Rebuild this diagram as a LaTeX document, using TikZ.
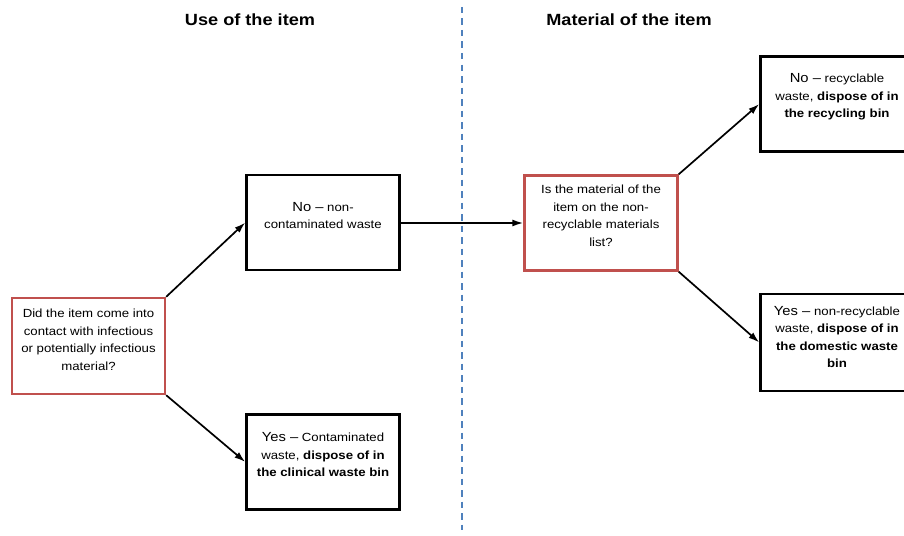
\documentclass[tikz,border=0pt]{standalone}
\usepackage{fontspec}
\setmainfont{Liberation Sans}[FakeStretch=1.12]
\usetikzlibrary{arrows.meta}

\definecolor{qred}{HTML}{C0504D}
\definecolor{divblue}{HTML}{4F81BD}

\newcommand{\lead}[1]{{\fontsize{13.2}{17.5}\selectfont #1}}

\tikzset{
  box/.style={draw=black, line width=2.4pt, minimum width=153pt,
    minimum height=95pt, inner sep=0pt},
  qbox/.style={box, draw=qred},
  txt/.style={align=center, font=\fontsize{11.8}{17.5}\selectfont, inner sep=0pt},
  title/.style={font=\bfseries\fontsize{16.2}{19}\selectfont, inner sep=0pt},
  arr/.style={-{Latex[length=11pt,width=7pt]}, line width=1.7pt},
  divider/.style={draw=divblue, line width=1.8pt, dash pattern=on 6.5pt off 5pt}
}

\begin{document}
\begin{tikzpicture}[x=1pt,y=-1pt]
\useasboundingbox (0,0) rectangle (904,535);
\clip (0,0) rectangle (904,535);

% column headings and divider
\node[title] (h1) at (250,20) {Use of the item};
\node[title] (h2) at (629,20) {Material of the item};
\coordinate (divtop) at (462,7);
\coordinate (divbot) at (462,530);
\draw[divider] (divtop) -- (divbot);

% boxes
\node[qbox, minimum height=96pt] (q1) at (88.5,346) {};
\node[box] (no1) at (323,222.5) {};
\node[box] (yes1) at (323,462) {};
\node[qbox] (q2) at (601,223) {};
\node[box] (no2) at (837,104) {};
\node[box, minimum height=97pt] (yes2) at (837,342.5) {};

% box texts
\node[txt] (q1t) at ([yshift=6pt]q1.center)
  {Did the item come into\\contact with infectious\\or potentially infectious\\material?};
\node[txt] (no1t) at ([yshift=7pt]no1.center)
  {\lead{No --} non-\\contaminated waste};
\node[txt] (yes1t) at ([yshift=7pt]yes1.center)
  {\lead{Yes --} Contaminated\\waste, \textbf{dispose of in}\\\textbf{the clinical waste bin}};
\node[txt] (q2t) at ([yshift=7pt]q2.center)
  {Is the material of the\\item on the non-\\recyclable materials\\list?};
\node[txt] (no2t) at ([yshift=7pt]no2.center)
  {\lead{No --} recyclable\\waste, \textbf{dispose of in}\\\textbf{the recycling bin}};
\node[txt] (yes2t) at ([yshift=5.5pt]yes2.center)
  {\lead{Yes --} non-recyclable\\waste, \textbf{dispose of in}\\\textbf{the domestic waste}\\\textbf{bin}};

% connectors
\draw[arr] (q1.north east) -- (no1.west);
\draw[arr] (q1.south east) -- (yes1.west);
\draw[arr] (q2.west -| no1.east) -- (q2.west);
\draw[arr] (q2.north east) -- (no2.west);
\draw[arr] (q2.south east) -- (yes2.west);
\end{tikzpicture}
\end{document}
